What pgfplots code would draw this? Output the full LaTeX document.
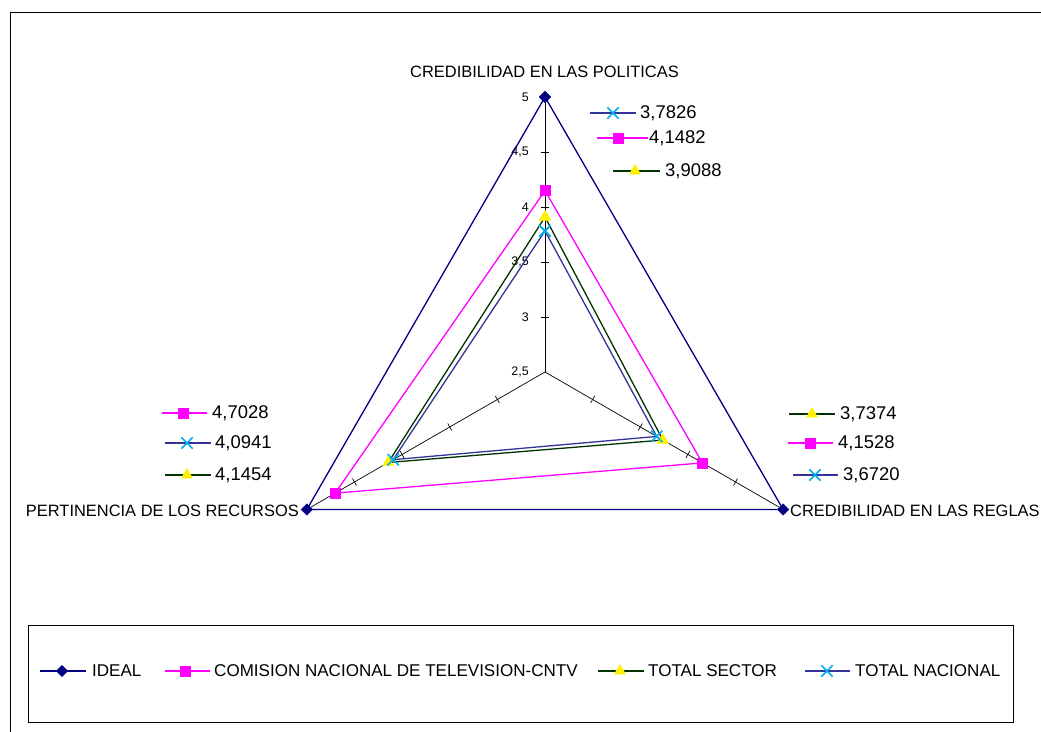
\documentclass[border=0pt]{standalone}
\usepackage{pgfplots}
\usepackage{pgfplotstable}
\pgfplotsset{compat=1.18}
\usepackage{fontspec}
\setmainfont{Liberation Sans}

\definecolor{cNavy}{RGB}{0,0,128}
\definecolor{cMag}{RGB}{255,0,255}
\definecolor{cGreen}{RGB}{0,51,0}
\definecolor{cNac}{RGB}{51,51,153}

% angle (deg) and value for each spoke; first row repeated to close the polygon
\pgfplotstableread{
a r
90 5
-30 5
210 5
90 5
}\ideal
\pgfplotstableread{
a r
90 4.1482
-30 4.1528
210 4.7028
90 4.1482
}\cntv
\pgfplotstableread{
a r
90 3.9088
-30 3.7374
210 4.1454
90 3.9088
}\sector
\pgfplotstableread{
a r
90 3.7826
-30 3.6720
210 4.0941
90 3.7826
}\nacional

\pgfplotsset{
  sIdeal/.style={color=cNavy, line width=1.3bp, mark=square*, mark size=4bp,
    mark options={rotate=45, fill=cNavy, draw=cNavy, line width=0.4bp}},
  sCntv/.style={color=cMag, line width=1.3bp, mark=square*, mark size=5bp,
    mark options={fill=cMag, draw=cMag, line width=0.4bp}},
  sSector/.style={color=cGreen, line width=1.3bp, mark=triangle*, mark size=6.5bp,
    mark options={fill=yellow, draw=yellow, line width=0.4bp}},
  sNac/.style={color=cNac, line width=1.3bp, mark=x, mark size=8bp,
    mark options={color=cyan, draw=cyan, line width=1.6bp}},
}

% radar transform: centre (545,360), 110 px per unit, origin at 2.5
\newcommand{\radar}[2]{\addplot[#1] table[x expr={545+110*(\thisrow{r}-2.5)*cos(\thisrow{a})},
  y expr={360+110*(\thisrow{r}-2.5)*sin(\thisrow{a})}] {#2};}
% small legend key: style, x1, xmark, x2, y
\newcommand{\keyline}[5]{%
  \addplot[#1, mark=none, forget plot] coordinates {(#2,#5)(#4,#5)};
  \addplot[#1, only marks, forget plot] coordinates {(#3,#5)};}

\begin{document}
\begin{tikzpicture}
\begin{axis}[
    x=1bp, y=1bp,
    xmin=0, xmax=1041, ymin=0, ymax=732,
    hide axis, clip=false,
    every node/.append style={inner sep=0pt, text=black},
]
\coordinate (BL) at (axis cs:0,0);
\coordinate (TR) at (axis cs:1041,732);

% outer frame and legend box
\draw[black, line width=0.8bp] (axis cs:10,-5) -- (axis cs:10,720) -- (axis cs:1050,720);
\draw[black, line width=0.8bp] (axis cs:28,10) rectangle (axis cs:1013,107);

% spokes
\draw[black, line width=0.7bp] (axis cs:545,360) -- (axis cs:545,635);
\draw[black, line width=0.7bp] (axis cs:545,360) -- (axis cs:783.2,222.5);
\draw[black, line width=0.7bp] (axis cs:545,360) -- (axis cs:306.8,222.5);
\pgfplotsinvokeforeach{55,110,165,220}{
  \draw[black, line width=0.7bp] (axis cs:541,{360+#1}) -- (axis cs:549,{360+#1});
  \draw[black, line width=0.7bp] (axis cs:{545+0.866*#1-2},{360-0.5*#1-3.46}) -- (axis cs:{545+0.866*#1+2},{360-0.5*#1+3.46});
  \draw[black, line width=0.7bp] (axis cs:{545-0.866*#1-2},{360-0.5*#1+3.46}) -- (axis cs:{545-0.866*#1+2},{360-0.5*#1-3.46});
}
\begin{scope}[every node/.style={anchor=east, inner sep=0pt, font=\fontsize{12.5}{14}\selectfont}]
\node at (axis cs:529,360) {2,5};
\node at (axis cs:529,415) {3};
\node at (axis cs:529,470) {3,5};
\node at (axis cs:529,525) {4};
\node at (axis cs:529,580) {4,5};
\node at (axis cs:529,635) {5};
\end{scope}

% series
\radar{sIdeal}{\ideal}
\radar{sCntv}{\cntv}
\radar{sSector}{\sector}
\radar{sNac}{\nacional}

% category names
\begin{scope}[every node/.style={inner sep=0pt, font=\fontsize{16.5}{19}\selectfont}]
\node[anchor=west] at (axis cs:410,660) {CREDIBILIDAD EN LAS POLITICAS};
\node[anchor=west] at (axis cs:790,221) {CREDIBILIDAD EN LAS REGLAS};
\node[anchor=east] at (axis cs:299,221) {PERTINENCIA DE LOS RECURSOS};
\end{scope}

% data labels with keys
\keyline{sNac}{590}{613}{636}{619}
\keyline{sCntv}{597}{618}{648}{594}
\keyline{sSector}{613}{635}{660}{561}
\keyline{sCntv}{162}{183}{207}{319}
\keyline{sNac}{165}{187}{211}{289}
\keyline{sSector}{165}{187}{211}{257}
\keyline{sSector}{789}{812}{835}{318}
\keyline{sCntv}{788}{810}{833}{289}
\keyline{sNac}{793}{815}{838}{257}
\begin{scope}[every node/.style={anchor=west, inner sep=0pt, font=\fontsize{18.5}{21}\selectfont}]
\node at (axis cs:640,619) {3,7826};
\node at (axis cs:649,594) {4,1482};
\node at (axis cs:665,561) {3,9088};
\node at (axis cs:212,319) {4,7028};
\node at (axis cs:215,289) {4,0941};
\node at (axis cs:215,257) {4,1454};
\node at (axis cs:840,318) {3,7374};
\node at (axis cs:838,289) {4,1528};
\node at (axis cs:843,257) {3,6720};
\end{scope}

% legend
\keyline{sIdeal}{40}{62}{86}{61}
\keyline{sCntv}{165}{185}{210}{61}
\keyline{sSector}{598}{620}{644}{61}
\keyline{sNac}{805}{827}{850}{61}
\begin{scope}[every node/.style={anchor=west, inner sep=0pt, font=\fontsize{17.1}{19}\selectfont}]
\node at (axis cs:92,61) {IDEAL};
\node at (axis cs:214,61) {COMISION NACIONAL DE TELEVISION-CNTV};
\node at (axis cs:648,61) {TOTAL SECTOR};
\node at (axis cs:855,61) {TOTAL NACIONAL};
\end{scope}
\end{axis}
\pgfresetboundingbox
\useasboundingbox (BL) rectangle (TR);
\end{tikzpicture}
\end{document}
